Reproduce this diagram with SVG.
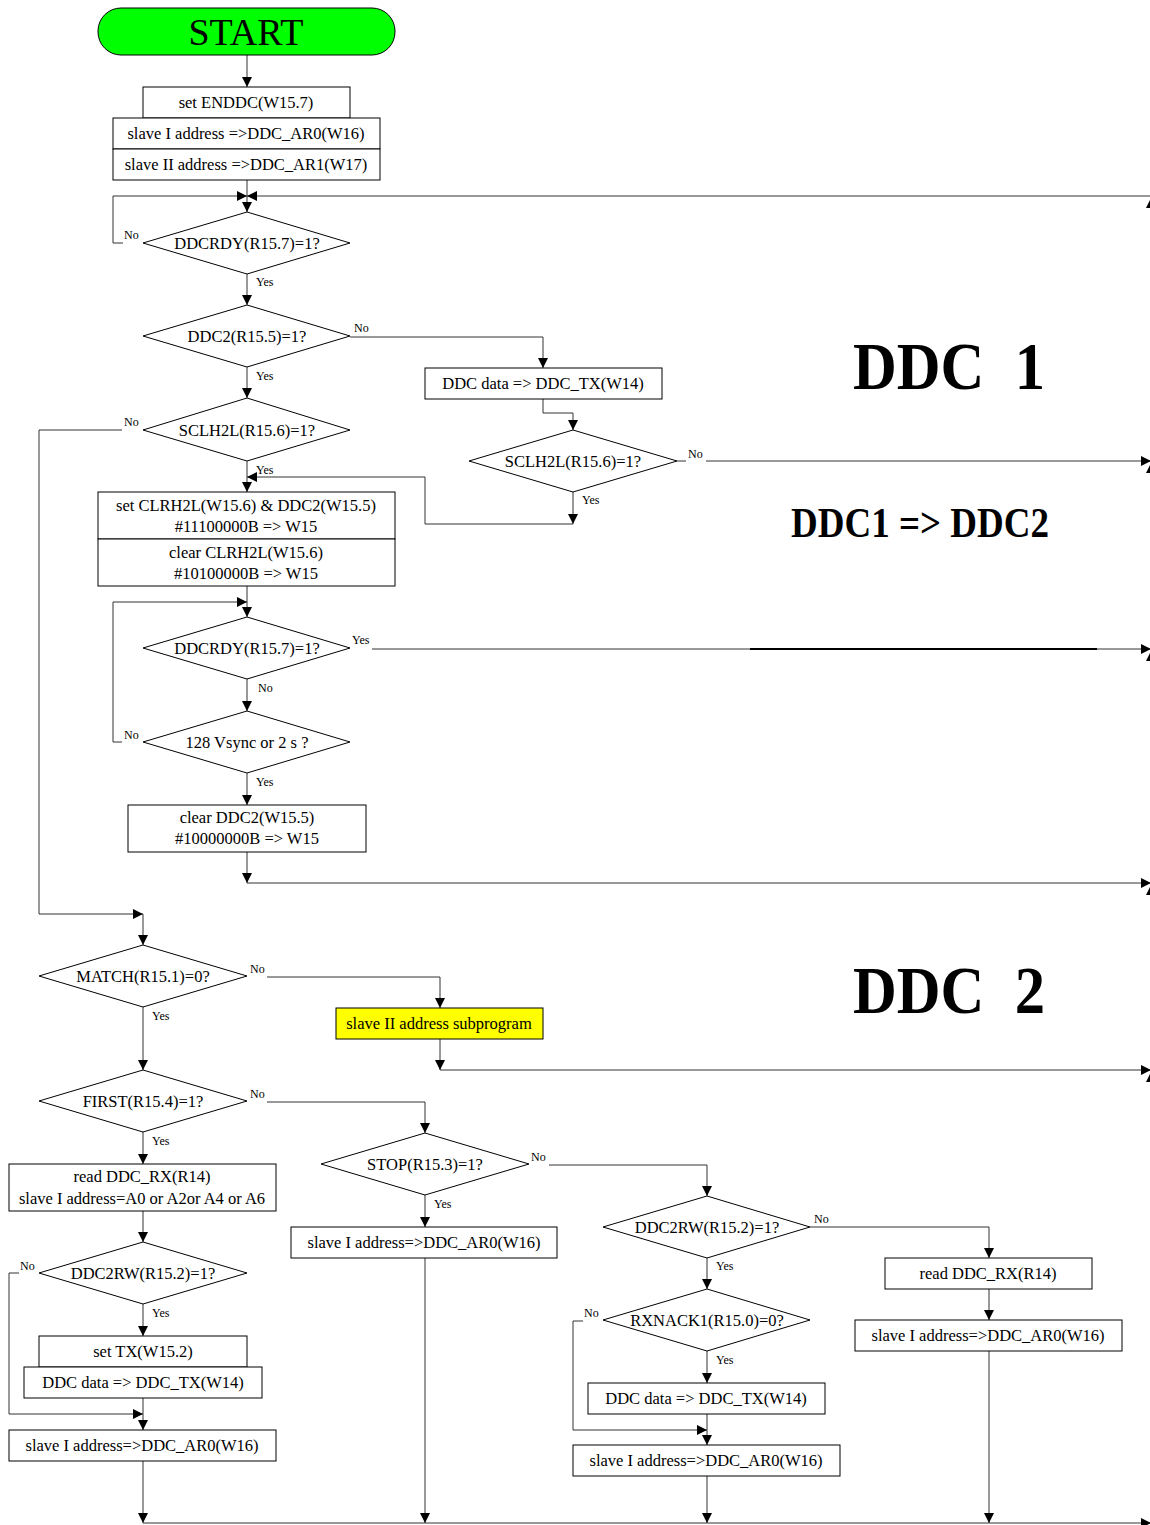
<svg xmlns="http://www.w3.org/2000/svg" width="1150" height="1525" viewBox="0 0 1150 1525">
<defs>
<marker id="ah" markerWidth="10" markerHeight="10" refX="10" refY="5" orient="auto" markerUnits="userSpaceOnUse"><path d="M0,0 L10,5 L0,10 z" fill="#000"/></marker>
<style>
.box{fill:#fff;stroke:#000;stroke-width:1}
.t{font-family:"Liberation Serif","Times New Roman",serif;font-size:16.5px;fill:#000;text-anchor:middle}
.lb{font-family:"Liberation Serif","Times New Roman",serif;font-size:12px;fill:#000}
.big{font-family:"Liberation Serif","Times New Roman",serif;font-weight:bold;fill:#000}
.c{fill:none;stroke:#333;stroke-width:1}
.ca{fill:none;stroke:#333;stroke-width:1;marker-end:url(#ah)}
</style>
</defs>
<rect width="1150" height="1525" fill="#fff"/>

<g id="connectors">
<path class="ca" d="M247,55 V87"/>
<path class="ca" d="M247,180 V212"/>
<path class="ca" d="M123,243 H113 V196 H247"/>
<path class="ca" d="M1150,196 H247"/>
<path class="ca" d="M247,274 V305"/>
<path class="ca" d="M350,337 H543 V368"/>
<path class="ca" d="M543,399 V413 H573 V430"/>
<path class="c" d="M677,461 H686"/>
<path class="ca" d="M706,461 H1151"/>
<path class="ca" d="M573,492 V524"/>
<path class="ca" d="M573,524 H425 V477 H247"/>
<path class="ca" d="M247,367 V398"/>
<path class="ca" d="M122,430 H39 V914 H143"/>
<path class="ca" d="M143,914 V945"/>
<path class="ca" d="M247,461 V492"/>
<path class="ca" d="M247,586 V617"/>
<path class="ca" d="M122,742 H113 V602 H247"/>
<path class="c" d="M372,649 H750"/>
<path d="M750,649 H1097" stroke="#000" stroke-width="2" fill="none"/>
<path class="ca" d="M1097,649 H1151"/>
<path class="ca" d="M247,679 V711"/>
<path class="ca" d="M247,773 V805"/>
<path class="ca" d="M247,852 V883"/>
<path class="ca" d="M247,883 H1151"/>
<path class="ca" d="M267,977 H440 V1008"/>
<path class="ca" d="M440,1039 V1070"/>
<path class="ca" d="M440,1070 H1151"/>
<path class="ca" d="M143,1007 V1070"/>
<path class="ca" d="M267,1102 H425 V1133"/>
<path class="ca" d="M143,1132 V1164"/>
<path class="ca" d="M143,1211 V1242"/>
<path class="ca" d="M19,1273 H9 V1414 H143"/>
<path class="ca" d="M143,1304 V1336"/>
<path class="ca" d="M143,1398 V1430"/>
<path class="ca" d="M143,1461 V1523"/>
<path class="ca" d="M143,1523 H1151"/>
<path class="ca" d="M549,1165 H707 V1196"/>
<path class="ca" d="M425,1195 V1227"/>
<path class="ca" d="M425,1258 V1523"/>
<path class="ca" d="M810,1227 H989 V1258"/>
<path class="ca" d="M707,1258 V1289"/>
<path class="ca" d="M583,1321 H573 V1430 H707"/>
<path class="ca" d="M707,1351 V1383"/>
<path class="ca" d="M707,1414 V1445"/>
<path class="ca" d="M707,1476 V1523"/>
<path class="ca" d="M989,1289 V1320"/>
<path class="ca" d="M989,1351 V1523"/>
<g fill="#000">
<polygon points="1146,208 1150,200 1150,208"/>
<polygon points="1146,473 1150,465 1150,473"/>
<polygon points="1146,661 1150,653 1150,661"/>
<polygon points="1146,895 1150,887 1150,895"/>
<polygon points="1146,1082 1150,1074 1150,1082"/>
</g>
<text class="lb" x="124" y="239">No</text>
<text class="lb" x="256" y="286">Yes</text>
<text class="lb" x="354" y="332">No</text>
<text class="lb" x="256" y="380">Yes</text>
<text class="lb" x="124" y="426">No</text>
<text class="lb" x="256" y="474">Yes</text>
<text class="lb" x="688" y="458">No</text>
<text class="lb" x="582" y="504">Yes</text>
<text class="lb" x="352" y="644">Yes</text>
<text class="lb" x="258" y="692">No</text>
<text class="lb" x="124" y="739">No</text>
<text class="lb" x="256" y="786">Yes</text>
<text class="lb" x="250" y="973">No</text>
<text class="lb" x="152" y="1020">Yes</text>
<text class="lb" x="250" y="1098">No</text>
<text class="lb" x="152" y="1145">Yes</text>
<text class="lb" x="531" y="1161">No</text>
<text class="lb" x="434" y="1208">Yes</text>
<text class="lb" x="20" y="1270">No</text>
<text class="lb" x="152" y="1317">Yes</text>
<text class="lb" x="814" y="1223">No</text>
<text class="lb" x="716" y="1270">Yes</text>
<text class="lb" x="584" y="1317">No</text>
<text class="lb" x="716" y="1364">Yes</text>
</g>

<g id="start">
<rect x="98" y="8" width="297" height="47" rx="23" ry="23" fill="#00ff00" stroke="#000"/>
<text x="246" y="45" font-family="Liberation Serif, Times New Roman, serif" font-size="38" text-anchor="middle">START</text>
</g>
<g id="set-enddc"><rect class="box" x="143" y="87" width="207" height="31"/><text class="t" x="246" y="108">set ENDDC(W15.7)</text></g>
<g id="slave1-ar0"><rect class="box" x="113" y="118" width="267" height="31"/><text class="t" x="246" y="139">slave I address =&gt;DDC_AR0(W16)</text></g>
<g id="slave2-ar1"><rect class="box" x="113" y="149" width="267" height="31"/><text class="t" x="246" y="170">slave II address =&gt;DDC_AR1(W17)</text></g>

<g id="d-ddcrdy1"><polygon class="box" points="143,243 247,212 350,243 247,274"/><text class="t" x="247" y="249">DDCRDY(R15.7)=1?</text></g>
<g id="d-ddc2"><polygon class="box" points="143,336 247,305 350,336 247,367"/><text class="t" x="247" y="342">DDC2(R15.5)=1?</text></g>
<g id="ddc-tx1"><rect class="box" x="425" y="368" width="237" height="31"/><text class="t" x="543" y="389">DDC data =&gt; DDC_TX(W14)</text></g>
<g id="d-sclh2l-right"><polygon class="box" points="469,461 573,430 677,461 573,492"/><text class="t" x="573" y="467">SCLH2L(R15.6)=1?</text></g>
<g id="d-sclh2l-left"><polygon class="box" points="143,430 247,398 350,430 247,461"/><text class="t" x="247" y="436">SCLH2L(R15.6)=1?</text></g>
<g id="set-clrh2l"><rect class="box" x="98" y="492" width="297" height="47"/><text class="t" x="246" y="511">set CLRH2L(W15.6) &amp; DDC2(W15.5)</text><text class="t" x="246" y="532">#11100000B =&gt; W15</text></g>
<g id="clear-clrh2l"><rect class="box" x="98" y="539" width="297" height="47"/><text class="t" x="246" y="558">clear CLRH2L(W15.6)</text><text class="t" x="246" y="579">#10100000B =&gt; W15</text></g>
<g id="d-ddcrdy2"><polygon class="box" points="143,648 247,617 350,648 247,679"/><text class="t" x="247" y="654">DDCRDY(R15.7)=1?</text></g>
<g id="d-vsync"><polygon class="box" points="143,742 247,711 350,742 247,773"/><text class="t" x="247" y="748">128 Vsync or 2 s ?</text></g>
<g id="clear-ddc2"><rect class="box" x="128" y="805" width="238" height="47"/><text class="t" x="247" y="823">clear DDC2(W15.5)</text><text class="t" x="247" y="844">#10000000B =&gt; W15</text></g>

<g id="title-ddc1"><text class="big" x="853" y="389" font-size="68" textLength="192" lengthAdjust="spacingAndGlyphs" xml:space="preserve">DDC  1</text></g>
<g id="title-ddc1-2"><text class="big" x="791" y="537" font-size="43" textLength="258" lengthAdjust="spacingAndGlyphs">DDC1 =&gt; DDC2</text></g>
<g id="title-ddc2"><text class="big" x="853" y="1013" font-size="68" textLength="192" lengthAdjust="spacingAndGlyphs" xml:space="preserve">DDC  2</text></g>

<g id="d-match"><polygon class="box" points="39,976 143,945 247,976 143,1007"/><text class="t" x="143" y="982">MATCH(R15.1)=0?</text></g>
<g id="slave2-sub"><rect x="336" y="1008" width="207" height="31" fill="#ffff00" stroke="#000"/><text class="t" x="439" y="1029">slave II address subprogram</text></g>
<g id="d-first"><polygon class="box" points="39,1101 143,1070 247,1101 143,1132"/><text class="t" x="143" y="1107">FIRST(R15.4)=1?</text></g>
<g id="read-rx1"><rect class="box" x="9" y="1164" width="267" height="47"/><text class="t" x="142" y="1182">read DDC_RX(R14)</text><text class="t" x="142" y="1204">slave I address=A0 or A2or A4 or A6</text></g>
<g id="d-ddc2rw1"><polygon class="box" points="39,1273 143,1242 247,1273 143,1304"/><text class="t" x="143" y="1279">DDC2RW(R15.2)=1?</text></g>
<g id="set-tx"><rect class="box" x="39" y="1336" width="208" height="31"/><text class="t" x="143" y="1357">set TX(W15.2)</text></g>
<g id="ddc-tx2"><rect class="box" x="24" y="1367" width="238" height="31"/><text class="t" x="143" y="1388">DDC data =&gt; DDC_TX(W14)</text></g>
<g id="ar0-a"><rect class="box" x="9" y="1430" width="267" height="31"/><text class="t" x="142" y="1451">slave I address=&gt;DDC_AR0(W16)</text></g>

<g id="d-stop"><polygon class="box" points="321,1164 425,1133 529,1164 425,1195"/><text class="t" x="425" y="1170">STOP(R15.3)=1?</text></g>
<g id="ar0-b"><rect class="box" x="291" y="1227" width="266" height="31"/><text class="t" x="424" y="1248">slave I address=&gt;DDC_AR0(W16)</text></g>

<g id="d-ddc2rw2"><polygon class="box" points="603,1227 707,1196 810,1227 707,1258"/><text class="t" x="707" y="1233">DDC2RW(R15.2)=1?</text></g>
<g id="d-rxnack"><polygon class="box" points="603,1320 707,1289 810,1320 707,1351"/><text class="t" x="707" y="1326">RXNACK1(R15.0)=0?</text></g>
<g id="ddc-tx3"><rect class="box" x="588" y="1383" width="237" height="31"/><text class="t" x="706" y="1404">DDC data =&gt; DDC_TX(W14)</text></g>
<g id="ar0-c"><rect class="box" x="573" y="1445" width="267" height="31"/><text class="t" x="706" y="1466">slave I address=&gt;DDC_AR0(W16)</text></g>

<g id="read-rx2"><rect class="box" x="885" y="1258" width="207" height="31"/><text class="t" x="988" y="1279">read DDC_RX(R14)</text></g>
<g id="ar0-d"><rect class="box" x="855" y="1320" width="267" height="31"/><text class="t" x="988" y="1341">slave I address=&gt;DDC_AR0(W16)</text></g>
</svg>
